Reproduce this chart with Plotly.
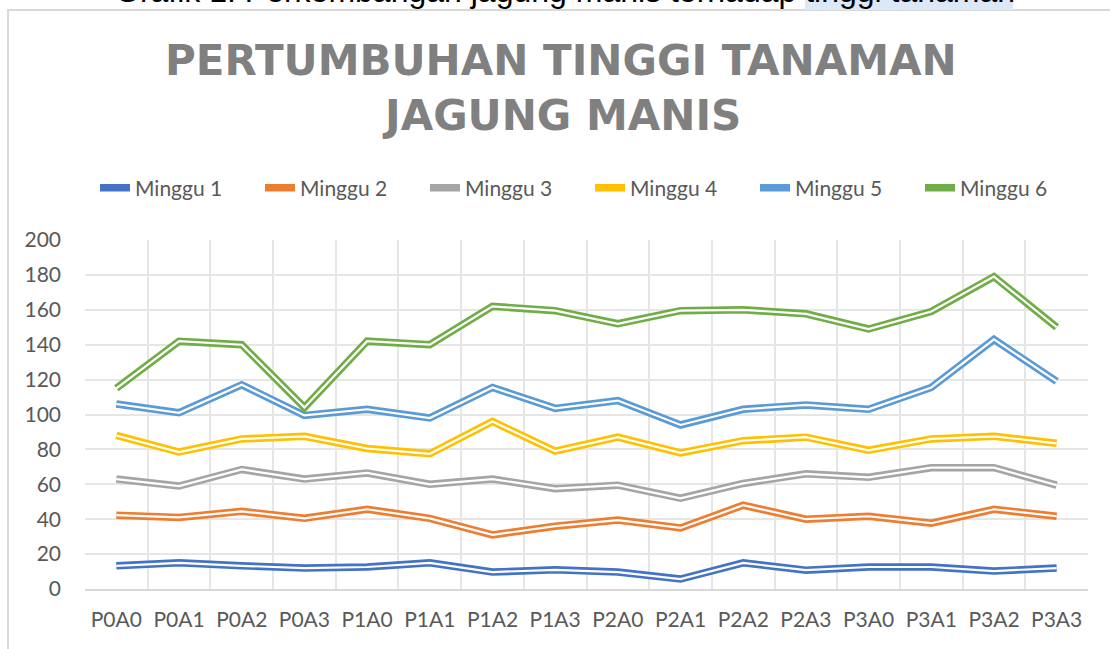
import plotly.graph_objects as go

categories = ["P0A0", "P0A1", "P0A2", "P0A3", "P1A0", "P1A1", "P1A2", "P1A3",
              "P2A0", "P2A1", "P2A2", "P2A3", "P3A0", "P3A1", "P3A2", "P3A3"]

minggu_1 = [13.3, 15.0, 13.3, 12.0, 12.6, 15.0, 9.7, 11.0, 9.7, 5.7, 15.0, 10.8, 12.6, 12.6, 10.3, 12.0]
minggu_2 = [42.3, 41.0, 44.5, 40.5, 45.7, 40.5, 31.0, 36.0, 39.5, 35.0, 48.0, 40.0, 41.7, 37.7, 45.7, 41.7]
minggu_3 = [63.0, 59.0, 68.5, 63.0, 66.5, 60.0, 63.0, 57.5, 59.5, 52.0, 60.5, 66.0, 64.0, 69.5, 69.5, 59.5]
minggu_4 = [88.0, 78.5, 86.0, 87.5, 80.5, 77.5, 96.0, 79.0, 87.0, 78.0, 85.0, 87.0, 79.5, 86.0, 87.5, 83.5]
minggu_5 = [106.0, 101.0, 117.0, 99.5, 103.0, 98.0, 115.5, 103.5, 108.0, 94.0, 103.0, 105.5, 103.0, 115.5, 143.0, 119.0]
minggu_6 = [115.0, 142.0, 140.0, 104.0, 142.0, 140.0, 162.0, 159.5, 152.0, 159.5, 160.0, 157.7, 149.0, 159.0, 179.0, 150.0]

series_names = ["Minggu 1", "Minggu 2", "Minggu 3", "Minggu 4", "Minggu 5", "Minggu 6"]
series_values = [minggu_1, minggu_2, minggu_3, minggu_4, minggu_5, minggu_6]
series_colors = ["#4472C4", "#ED7D31", "#A5A5A5", "#FFC000", "#5B9BD5", "#70AD47"]

title_lines = ["PERTUMBUHAN TINGGI TANAMAN", "JAGUNG MANIS"]
caption = "Grafik 1. Perkembangan jagung manis terhadap tinggi tanaman"

W, H = 1110, 649
L, R, T, B = 85, 22, 240, 60
PW, PH = W - L - R, H - T - B


def px_x(px):
    return (px - L) / PW


def px_y(py):
    return (H - B - py) / PH


fig = go.Figure()
for name, vals, col in zip(series_names, series_values, series_colors):
    fig.add_trace(go.Scatter(x=categories, y=vals, name=name, mode="lines",
                             line=dict(color=col, width=7.5), legendgroup=name))
    fig.add_trace(go.Scatter(x=categories, y=vals, name=name, mode="lines",
                             line=dict(color="white", width=2.2), legendgroup=name,
                             showlegend=False, hoverinfo="skip"))

tick_font = dict(family="Lato, Open Sans, sans-serif", size=21, color="#595959")
title_font = dict(family="DejaVu Sans, sans-serif", size=42, color="#808080", weight="bold")

annotations = [
    dict(text=caption, xref="paper", yref="paper", x=px_x(565), y=px_y(11),
         xanchor="center", yanchor="bottom", showarrow=False,
         font=dict(family="Liberation Sans, Arial, sans-serif", size=32, color="black")),
    dict(text=title_lines[0], xref="paper", yref="paper", x=px_x(561), y=px_y(61),
         xanchor="center", yanchor="middle", showarrow=False, font=title_font),
    dict(text=title_lines[1], xref="paper", yref="paper", x=px_x(561), y=px_y(115),
         xanchor="center", yanchor="middle", showarrow=False, font=title_font),
]

fig.update_layout(
    width=W, height=H,
    margin=dict(l=L, r=R, t=T, b=B, autoexpand=False),
    paper_bgcolor="white", plot_bgcolor="white",
    legend=dict(orientation="h", x=95 / W, xanchor="left", xref="container",
                y=1 - 188 / H, yanchor="middle", yref="container",
                font=dict(family="Lato, Open Sans, sans-serif", size=21, color="#595959"),
                entrywidth=120, entrywidthmode="pixels", bgcolor="rgba(0,0,0,0)"),
    xaxis=dict(type="category", range=[-0.5, 15.5], tickson="boundaries",
               showgrid=True, gridcolor="#e6e6e6", gridwidth=1.5,
               showline=True, linecolor="#d9d9d9", linewidth=1.5,
               ticks="", tickfont=tick_font, ticklabelstandoff=11, fixedrange=True),
    yaxis=dict(range=[0, 200], dtick=20, showgrid=True, gridcolor="#e6e6e6", gridwidth=1.5,
               zeroline=False, ticks="", tickfont=tick_font, ticklabelstandoff=23,
               fixedrange=True),
    shapes=[
        dict(type="rect", xref="paper", yref="paper",
             x0=px_x(8), x1=px_x(1125), y0=px_y(10), y1=px_y(680),
             line=dict(color="#d9d9d9", width=2), fillcolor="rgba(0,0,0,0)", layer="below"),
        dict(type="rect", xref="paper", yref="paper",
             x0=px_x(805), x1=px_x(1013), y0=px_y(-20), y1=px_y(10),
             line=dict(width=0), fillcolor="#dbe8f7", layer="below"),
    ],
    annotations=annotations,
)

fig.write_html("out.html", config={"displayModeBar": False},
               post_script="document.body.style.margin='0';")
